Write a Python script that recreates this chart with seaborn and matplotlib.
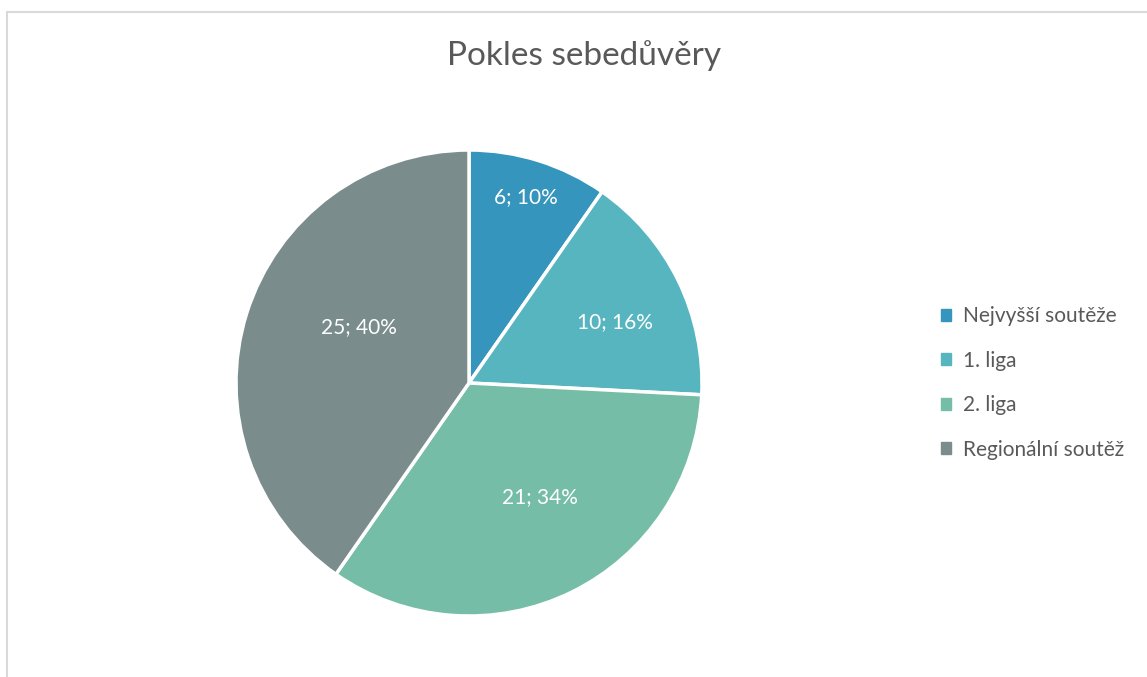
import numpy as np
import seaborn as sns
import matplotlib.pyplot as plt
from matplotlib.lines import Line2D


categories = ["Nejvyšší soutěže", "1. liga", "2. liga", "Regionální soutěž"]
counts = [6, 10, 21, 25]
colors = ["#3595BC", "#57B5C0", "#75BDA6", "#7A8C8C"]
title = "Pokles sebedůvěry"

sns.set_theme(style="white")
plt.rcParams["font.family"] = ["Lato", "DejaVu Sans"]

fig = plt.figure(figsize=(11.47, 6.77), dpi=100)

# pie centre ~ (469, 383) px, radius ~233 px
W, H = 1147, 677
cx, cy, r = 469, 383, 233
ax = fig.add_axes([(cx - r) / W, (H - cy - r) / H, 2 * r / W, 2 * r / H])

palette = sns.color_palette(colors)
total = sum(counts)
wedges, _ = ax.pie(counts, colors=palette, startangle=90, counterclock=False,
                   radius=1.0, wedgeprops=dict(edgecolor="white", linewidth=2.5))
ax.set_xlim(-1, 1)
ax.set_ylim(-1, 1)
ax.set_aspect("equal")

# Excel "best fit" label placement: distance and angular nudge per wedge
label_dist = [0.835, 0.68, 0.575, 0.53]
label_nudge = [0.4, -3.4, 5.8, -9.5]
for w, c, d, n in zip(wedges, counts, label_dist, label_nudge):
    ang = np.deg2rad((w.theta1 + w.theta2) / 2 + n)
    ax.text(d * np.cos(ang), d * np.sin(ang), f"{c}; {round(c / total * 100)}%",
            ha="center", va="center", color="white", fontsize=15)

fig.text(584 / W, 1 - 56 / H, title, ha="center", va="center",
         fontsize=24, color="#595959")

handles = [plt.Rectangle((0, 0), 1, 1, color=col) for col in palette]
fig.legend(handles, categories, loc="center left", bbox_to_anchor=(922 / W, 1 - 383 / H),
           frameon=False, fontsize=15, labelcolor="#595959", handlelength=0.5,
           handleheight=0.5, handletextpad=0.55, labelspacing=1.17)

# chart frame (partially visible)
fig.add_artist(Line2D([7.5 / W, 7.5 / W], [0, 1 - 12 / H], color="#D9D9D9", lw=1.5))
fig.add_artist(Line2D([7.5 / W, 1], [1 - 12 / H, 1 - 12 / H], color="#D9D9D9", lw=1.5))

fig.savefig("out.png", dpi=100)
